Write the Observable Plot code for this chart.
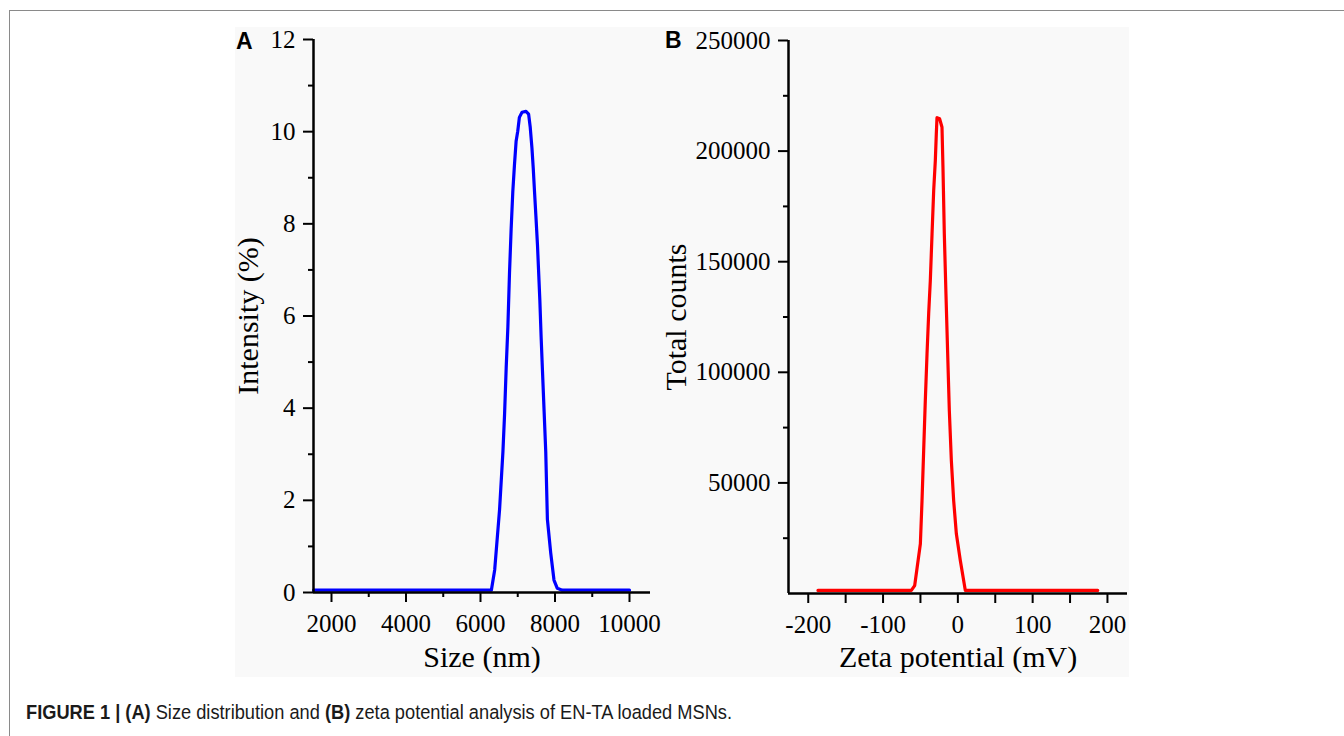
<!DOCTYPE html>
<html>
<head>
<meta charset="utf-8">
<script src="https://cdn.jsdelivr.net/npm/d3@7"></script>
<script src="https://cdn.jsdelivr.net/npm/@observablehq/plot@0.6"></script>
<style>
  html, body { margin: 0; padding: 0; background: #fff; }
  #root { position: relative; width: 1344px; height: 736px; overflow: hidden; }
  .frame { position: absolute; left: 9px; top: 10px; width: 1400px; height: 800px;
           border-top: 1.5px solid #8a8a8a; border-left: 1.5px solid #8a8a8a; box-sizing: border-box; }
  .bg { position: absolute; left: 235px; top: 27px; width: 894px; height: 650px; background: #f9f9f9; }
  .panel { position: absolute; top: 27px; }
  .letter { position: absolute; font-family: "Liberation Sans", Arial, sans-serif; font-weight: bold;
            font-size: 23px; line-height: 1; color: #000; }
  #cap { position: absolute; left: 26px; top: 702px; white-space: nowrap; transform-origin: 0 0;
         font-family: "Liberation Sans Narrow", "Liberation Sans", Arial, sans-serif; font-size: 20.5px;
         line-height: 1; color: #1a1a1a; }
  #cap b { font-weight: bold; }
</style>
</head>
<body>
<div id="root">
  <div class="frame"></div>
  <div class="bg"></div>
  <div id="panelA" class="panel" style="left:235px"></div>
  <div id="panelB" class="panel" style="left:652px"></div>
  <div class="letter" style="left:236px;top:30px">A</div>
  <div class="letter" style="left:665px;top:29px">B</div>
  <div id="cap"><b>FIGURE 1 | (A)</b> Size distribution and <b>(B)</b> zeta potential analysis of EN-TA loaded MSNs.</div>
</div>
<script>
// ---------- Panel A: size distribution ----------
const sizeNm = [1520, 6292, 6381, 6513, 6602, 6646, 6690, 6735, 6779, 6823, 6867, 6912, 6956, 7000, 7044, 7115, 7221, 7292, 7336, 7381, 7416, 7451, 7487, 7531, 7558, 7593, 7628, 7664, 7708, 7752, 7796, 7885, 7973, 8062, 8195, 10000];
const intensityPct = [0.05, 0.05, 0.49, 1.81, 3.05, 3.86, 4.88, 5.76, 6.94, 7.89, 8.69, 9.28, 9.79, 10.01, 10.31, 10.42, 10.44, 10.38, 10.09, 9.65, 9.21, 8.69, 8.18, 7.52, 7.01, 6.35, 5.54, 4.81, 3.93, 3.05, 1.59, 0.86, 0.27, 0.09, 0.05, 0.05];
const sizeTicks = [2000, 4000, 6000, 8000, 10000];
const sizeMinorTicks = [3000, 5000, 7000, 9000];
const intensityTicks = [0, 2, 4, 6, 8, 10, 12];
const intensityMinorTicks = [1, 3, 5, 7, 9, 11];
const sizeDomain = [1517, 10564];
const intensityDomain = [0, 12];
const xLabelA = "Size (nm)";
const yLabelA = "Intensity (%)";

// ---------- Panel B: zeta potential ----------
const zetaMv = [-187, -62.2, -57.7, -50.1, -47.9, -45.7, -43.5, -41.2, -39.0, -36.8, -34.5, -32.3, -30.1, -28.8, -27.9, -24.3, -21.2, -19.9, -18.1, -15.9, -13.6, -11.4, -8.7, -5.6, -2.0, 3.3, 10.0, 187];
const totalCounts = [1400, 1400, 3600, 22500, 42000, 64600, 87300, 108400, 126500, 141500, 162600, 182200, 195800, 207800, 215100, 214600, 210800, 192700, 162600, 135500, 108400, 82700, 60100, 42000, 27000, 14900, 1400, 1400];
const zetaTicks = [-200, -100, 0, 100, 200];
const zetaMinorTicks = [-150, -50, 50, 150];
const countTicks = [50000, 100000, 150000, 200000, 250000];
const countMinorTicks = [25000, 75000, 125000, 175000, 225000];
const zetaDomain = [-226.4, 226.8];
const countDomain = [0, 250000];
const xLabelB = "Zeta potential (mV)";
const yLabelB = "Total counts";

const serif = "'Liberation Serif', 'Times New Roman', serif";
const fmt = d => String(d);

function panel({xs, ys, color, xDomain, yDomain, xTicks, xMinor, xMinorSize, yTicks, yMinor,
                width, marginLeft, marginTop, marginBottom, xLabel, yLabel, yLabelDx, xLabelDy, yAxisFrom}) {
  const data = xs.map((x, i) => ({x, y: ys[i]}));
  return Plot.plot({
    width, height: 650,
    marginLeft, marginRight: 2, marginTop, marginBottom,
    style: {background: "transparent", overflow: "visible", color: "black", fontFamily: serif},
    x: {domain: xDomain},
    y: {domain: yDomain},
    marks: [
      Plot.axisX({ticks: xTicks, tickFormat: fmt, tickSize: 10, tickPadding: 12, fontSize: 25, strokeWidth: 2, label: null}),
      Plot.axisX({ticks: xMinor, tickSize: xMinorSize, strokeWidth: 2, fill: "none", label: null}),
      Plot.axisY({ticks: yTicks, tickFormat: fmt, tickSize: 10, tickPadding: 8, fontSize: 25, strokeWidth: 2, label: null}),
      Plot.axisY({ticks: yMinor, tickSize: 5, strokeWidth: 2, fill: "none", label: null}),
      Plot.line(data, {x: "x", y: "y", stroke: color, strokeWidth: 3.2, strokeLinejoin: "round", strokeLinecap: "round"}),
      Plot.ruleX([xDomain[0]], {y1: yAxisFrom, y2: yDomain[1], stroke: "black", strokeWidth: 2.5}),
      Plot.ruleY([yDomain[0]], {x1: xDomain[0], x2: xDomain[1], stroke: "black", strokeWidth: 2.5}),
      Plot.text([xLabel], {text: d => d, frameAnchor: "bottom", textAnchor: "middle", lineAnchor: "bottom", dy: xLabelDy, fontSize: 30, fill: "black"}),
      Plot.text([yLabel], {text: d => d, frameAnchor: "left", textAnchor: "middle", lineAnchor: "bottom", rotate: -90, dx: yLabelDx, fontSize: 30, fill: "black"})
    ]
  });
}

document.getElementById("panelA").appendChild(panel({
  xs: sizeNm, ys: intensityPct, color: "#0000ff",
  xDomain: sizeDomain, yDomain: intensityDomain,
  xTicks: sizeTicks, xMinor: sizeMinorTicks, xMinorSize: 5,
  yTicks: intensityTicks, yMinor: intensityMinorTicks,
  width: 417, marginLeft: 78, marginTop: 12, marginBottom: 85,
  xLabel: xLabelA, yLabel: yLabelA, yLabelDx: -56, xLabelDy: 74, yAxisFrom: 0
}));

document.getElementById("panelB").appendChild(panel({
  xs: zetaMv, ys: totalCounts, color: "#ff0000",
  xDomain: zetaDomain, yDomain: countDomain,
  xTicks: zetaTicks, xMinor: zetaMinorTicks, xMinorSize: 10,
  yTicks: countTicks, yMinor: countMinorTicks,
  width: 477, marginLeft: 136, marginTop: 13, marginBottom: 84,
  xLabel: xLabelB, yLabel: yLabelB, yLabelDx: -103, xLabelDy: 73, yAxisFrom: 0
}));

// fit caption width to the reference
const cap = document.getElementById("cap");
const w = cap.getBoundingClientRect().width;
cap.style.transform = `scaleX(${706 / w})`;
</script>
</body>
</html>
